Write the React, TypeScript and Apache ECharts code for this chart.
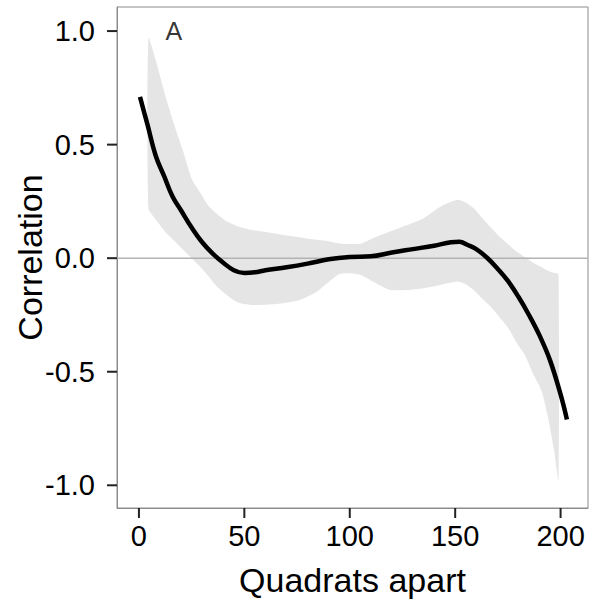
import React, { useEffect, useRef } from "react";
import * as echarts from "echarts";

// Fitted curve (smoothed correlation)
const lineX = [0.5, 4, 8, 12, 16, 20, 25, 30, 35, 40, 45, 50, 55, 60, 70, 80, 90, 100, 110, 120, 130, 140, 148, 152, 156, 160, 165, 170, 175, 180, 185, 190, 195, 200, 203];
const lineY = [0.71, 0.59, 0.45, 0.36, 0.27, 0.21, 0.135, 0.07, 0.02, -0.02, -0.053, -0.065, -0.062, -0.053, -0.04, -0.024, -0.005, 0.005, 0.008, 0.025, 0.04, 0.055, 0.07, 0.072, 0.058, 0.04, 0.003, -0.045, -0.1, -0.17, -0.25, -0.34, -0.45, -0.6, -0.71];

// Confidence band
const bandX = [4.5, 8, 13, 17, 21, 25, 29, 33, 37, 42, 47, 53, 60, 68, 76, 84, 90, 95, 100, 105, 111, 119, 127, 135, 143, 151, 155, 159, 163, 167, 171, 175, 179, 183, 187, 191, 194, 197, 199];
const bandUpper = [0.97, 0.87, 0.7, 0.58, 0.47, 0.35, 0.29, 0.23, 0.195, 0.16, 0.14, 0.125, 0.115, 0.103, 0.092, 0.081, 0.075, 0.065, 0.062, 0.063, 0.088, 0.117, 0.145, 0.176, 0.227, 0.257, 0.245, 0.218, 0.175, 0.135, 0.095, 0.062, 0.03, 0.005, -0.02, -0.04, -0.055, -0.065, -0.07];
const bandLower = [0.22, 0.17, 0.11, 0.075, 0.037, 0.0, -0.037, -0.08, -0.125, -0.165, -0.195, -0.206, -0.205, -0.198, -0.185, -0.15, -0.105, -0.07, -0.066, -0.073, -0.103, -0.14, -0.14, -0.132, -0.118, -0.103, -0.115, -0.142, -0.18, -0.215, -0.26, -0.305, -0.37, -0.425, -0.51, -0.585, -0.7, -0.85, -0.98];

const xTicks = [0, 50, 100, 150, 200];
const yTicks = [-1, -0.5, 0, 0.5, 1];
const xRange = [-10.4, 213];
const yRange = [-1.1, 1.106];
const panelLabel = { text: "A", x: 16.6, y: 1.0 };
const xTitle = "Quadrats apart";
const yTitle = "Correlation";

const FONT = "'Liberation Sans', Arial, sans-serif";
const BORDER = "#8c8c8c";
const TICK_LEN = 10;

export default function App() {
  const ref = useRef<HTMLDivElement>(null);
  useEffect(() => {
    if (!ref.current) return;
    const chart = echarts.init(ref.current, null, { renderer: "svg" });
    const yTitleText = {
      type: "text",
      x: 30,
      y: 257.5,
      rotation: Math.PI / 2,
      style: {
        text: yTitle,
        font: `34px ${FONT}`,
        fill: "#000",
        textAlign: "center",
        textVerticalAlign: "middle",
      },
    };
    chart.setOption({
      animation: false,
      backgroundColor: "#ffffff",
      grid: {
        left: 117,
        right: 1,
        top: 7,
        bottom: 93,
        outerBoundsMode: "none",
        show: true,
        borderColor: BORDER,
      },
      graphic: [yTitleText],
      xAxis: {
        type: "value",
        min: xRange[0],
        max: xRange[1],
        name: xTitle,
        nameLocation: "middle",
        nameGap: 55,
        nameTextStyle: { fontFamily: FONT, fontSize: 34, color: "#000" },
        axisLine: { show: true, onZero: false, lineStyle: { color: BORDER } },
        splitLine: { show: false },
        axisTick: { show: false },
        axisLabel: { customValues: xTicks, margin: 13, fontFamily: FONT, fontSize: 29, color: "#000" },
      },
      yAxis: {
        type: "value",
        min: yRange[0],
        max: yRange[1],
        axisLine: { show: true, onZero: false, lineStyle: { color: BORDER } },
        splitLine: { show: false },
        axisTick: { show: false },
        axisLabel: {
          customValues: yTicks,
          margin: 22,
          fontFamily: FONT,
          fontSize: 29,
          color: "#000",
          formatter: (v: number) => v.toFixed(1),
        },
      },
      series: [
        {
          type: "custom",
          silent: true,
          data: [[bandX[0], bandUpper[0]]],
          renderItem: (_params: any, api: any) => {
            const pts: number[][] = [];
            for (let i = 0; i < bandX.length; i++) pts.push(api.coord([bandX[i], bandUpper[i]]));
            for (let i = bandX.length - 1; i >= 0; i--) pts.push(api.coord([bandX[i], bandLower[i]]));
            return {
              type: "polygon",
              shape: { points: pts, smooth: 0.2 },
              style: { fill: "#e5e5e5", stroke: "none" },
            };
          },
        },
        {
          type: "line",
          silent: true,
          showSymbol: false,
          data: [[xRange[0], 0], [xRange[1], 0]],
          lineStyle: { color: "#b3b3b3", width: 1.6 },
        },
        {
          type: "line",
          silent: true,
          showSymbol: false,
          smooth: 0.4,
          data: lineX.map((x, i) => [x, lineY[i]]),
          lineStyle: { color: "#000", width: 4.5 },
        },
        {
          type: "scatter",
          silent: true,
          symbolSize: 0,
          data: [[panelLabel.x, panelLabel.y]],
          label: {
            show: true,
            position: "inside",
            formatter: panelLabel.text,
            fontFamily: FONT,
            fontSize: 25,
            color: "#000",
          },
        },
      ],
    });

    // Tick marks placed through the chart's own scales
    try {
      const tickLines: any[] = [];
      xTicks.forEach((v) => {
        const p = chart.convertToPixel({ gridIndex: 0 }, [v, yRange[0]]) as number[];
        if (p && isFinite(p[0]) && isFinite(p[1])) {
          tickLines.push({
            type: "line",
            silent: true,
            z: 100,
            shape: { x1: p[0], y1: p[1], x2: p[0], y2: p[1] + TICK_LEN },
            style: { stroke: "#222", lineWidth: 2 },
          });
        }
      });
      yTicks.forEach((v) => {
        const p = chart.convertToPixel({ gridIndex: 0 }, [xRange[0], v]) as number[];
        if (p && isFinite(p[0]) && isFinite(p[1])) {
          tickLines.push({
            type: "line",
            silent: true,
            z: 100,
            shape: { x1: p[0], y1: p[1], x2: p[0] - TICK_LEN, y2: p[1] },
            style: { stroke: "#222", lineWidth: 2 },
          });
        }
      });
      chart.setOption({ graphic: [yTitleText, ...tickLines] });
    } catch (e) {
      // keep chart as is
    }
    return () => chart.dispose();
  }, []);
  return <div ref={ref} style={{ position: "fixed", left: 0, top: 0, width: 589, height: 601 }} />;
}
